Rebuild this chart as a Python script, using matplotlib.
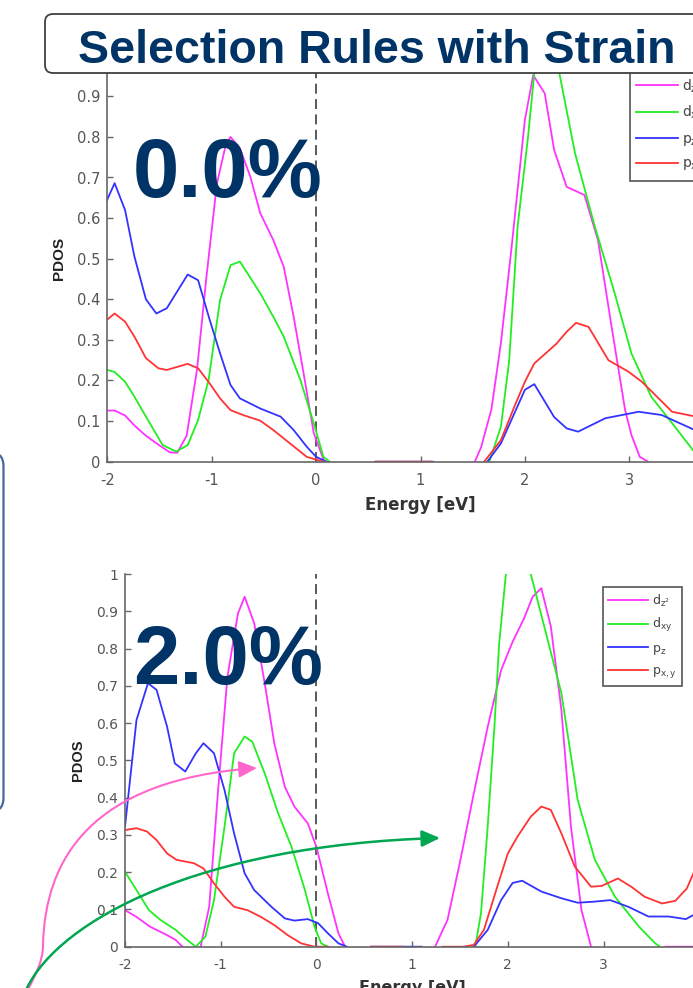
import numpy as np
import matplotlib
matplotlib.use('Agg')
import matplotlib.pyplot as plt
from matplotlib.patches import FancyBboxPatch, FancyArrowPatch
from matplotlib.path import Path
import matplotlib.transforms as mtransforms

nan = np.nan

# ---------------- data: 0.0 % strain ----------------
e0_dz2 = [-2.01, -1.93, -1.83, -1.74, -1.63, -1.50, -1.40, -1.33, -1.24, -1.14, -1.05, -0.95, -0.87, -0.82,
          -0.73, -0.63, -0.535, -0.41, -0.31, -0.215, -0.12, -0.023, 0.07, nan,
          1.52, 1.58, 1.68, 1.77, 1.87, 2.00, 2.08, 2.19, 2.28, 2.40, 2.57, 2.70, 2.83, 2.96, 3.02, 3.10, 3.18]
p0_dz2 = [0.126, 0.126, 0.114, 0.089, 0.064, 0.040, 0.023, 0.022, 0.064, 0.228, 0.456, 0.685, 0.775, 0.800,
          0.772, 0.702, 0.612, 0.546, 0.480, 0.357, 0.218, 0.071, 0.006, nan,
          0.0, 0.035, 0.13, 0.292, 0.522, 0.842, 0.952, 0.907, 0.768, 0.677, 0.657, 0.546, 0.333, 0.127, 0.066, 0.012, 0.0]

e0_dxy = [-2.01, -1.93, -1.83, -1.74, -1.63, -1.47, -1.34, -1.23, -1.13, -1.03, -0.92, -0.82, -0.73, -0.535,
          -0.41, -0.31, -0.15, -0.023, 0.07, 0.13, nan,
          1.66, 1.77, 1.85, 1.93, 2.03, 2.09, 2.21, 2.33, 2.48, 2.67, 2.86, 3.02, 3.21, 3.41, 3.62, 3.72]
p0_dxy = [0.227, 0.221, 0.197, 0.160, 0.111, 0.041, 0.025, 0.041, 0.103, 0.201, 0.398, 0.484, 0.493, 0.415,
          0.357, 0.308, 0.201, 0.095, 0.012, 0.0, nan,
          0.0, 0.086, 0.25, 0.579, 0.80, 0.957, 1.12, 0.957, 0.76, 0.579, 0.415, 0.267, 0.16, 0.095, 0.025, 0.0]

e0_pz = [-2.01, -1.93, -1.83, -1.74, -1.63, -1.53, -1.43, -1.23, -1.13, -1.02, -0.92, -0.82, -0.73, -0.535,
         -0.34, -0.215, -0.09, 0.0, 0.1, nan, 0.57, 1.12, nan,
         1.64, 1.77, 2.00, 2.09, 2.28, 2.40, 2.51, 2.77, 3.09, 3.31, 3.61, 3.80, 4.0]
p0_pz = [0.64, 0.686, 0.62, 0.505, 0.40, 0.365, 0.378, 0.461, 0.447, 0.35, 0.267, 0.189, 0.156, 0.131,
         0.111, 0.078, 0.037, 0.012, 0.0, nan, 0.0, 0.0, nan,
         0.0, 0.045, 0.177, 0.191, 0.11, 0.082, 0.074, 0.107, 0.123, 0.115, 0.08, 0.06, 0.05]

e0_pxy = [-2.01, -1.93, -1.83, -1.74, -1.63, -1.51, -1.43, -1.23, -1.13, -1.02, -0.92, -0.82, -0.70, -0.535,
          -0.41, -0.25, -0.09, 0.07, nan, 0.57, 1.10, nan,
          1.61, 1.77, 1.90, 2.00, 2.09, 2.30, 2.40, 2.49, 2.61, 2.80, 2.99, 3.12, 3.41, 3.62, 3.80, 4.0]
p0_pxy = [0.348, 0.365, 0.345, 0.308, 0.255, 0.230, 0.226, 0.241, 0.230, 0.193, 0.156, 0.127, 0.115, 0.101,
          0.078, 0.045, 0.012, 0.0, nan, 0.0, 0.0, nan,
          0.0, 0.053, 0.136, 0.197, 0.242, 0.29, 0.32, 0.342, 0.332, 0.25, 0.222, 0.197, 0.123, 0.112, 0.11, 0.11]

# ---------------- data: 2.0 % strain ----------------
e2_dz2 = [-2.0, -1.88, -1.74, -1.56, -1.47, -1.40, nan,
          -1.21, -1.12, -1.03, -0.93, -0.82, -0.75, -0.65, -0.54, -0.44, -0.33, -0.23, -0.09, 0.0, 0.12, 0.23, 0.30, nan,
          1.24, 1.37, 1.505, 1.645, 1.79, 1.93, 2.05, 2.17, 2.26, 2.35, 2.45, 2.56, 2.66, 2.77, 2.87, nan,
          3.65, 4.0]
p2_dz2 = [0.098, 0.08, 0.054, 0.031, 0.018, 0.0, nan,
          0.0, 0.107, 0.411, 0.724, 0.894, 0.939, 0.868, 0.707, 0.546, 0.429, 0.376, 0.331, 0.268, 0.143, 0.036, 0.0, nan,
          0.0, 0.072, 0.233, 0.412, 0.59, 0.742, 0.818, 0.881, 0.939, 0.962, 0.859, 0.635, 0.322, 0.098, 0.0, nan,
          0.0, 0.0]

e2_dxy = [-2.0, -1.88, -1.75, -1.63, -1.47, -1.35, -1.26, -1.16, -1.07, -0.96, -0.86, -0.75, -0.67, -0.54,
          -0.40, -0.26, -0.12, -0.02, 0.05, 0.12, nan,
          1.66, 1.72, 1.79, 1.86, 1.91, 1.98, 2.10, 2.24, 2.42, 2.56, 2.73, 2.91, 3.12, 3.37, 3.54, 3.59]
p2_dxy = [0.201, 0.152, 0.098, 0.072, 0.045, 0.018, 0.0, 0.027, 0.125, 0.322, 0.519, 0.564, 0.55, 0.465,
          0.358, 0.268, 0.152, 0.054, 0.009, 0.0, nan,
          0.0, 0.09, 0.322, 0.59, 0.814, 1.0, 1.15, 1.0, 0.82, 0.68, 0.394, 0.233, 0.134, 0.054, 0.009, 0.0]

e2_pz = [-2.0, -1.88, -1.76, -1.67, -1.56, -1.48, -1.37, -1.26, -1.18, -1.07, -0.96, -0.86, -0.75, -0.65,
         -0.47, -0.33, -0.23, -0.09, 0.018, 0.12, 0.23, 0.32, nan, 0.57, 1.10, nan,
         1.645, 1.79, 1.93, 2.05, 2.15, 2.35, 2.56, 2.73, 2.91, 3.07, 3.26, 3.47, 3.68, 3.86, 3.94, 4.0]
p2_pz = [0.322, 0.608, 0.707, 0.689, 0.59, 0.492, 0.47, 0.519, 0.546, 0.519, 0.42, 0.304, 0.197, 0.152,
         0.107, 0.076, 0.070, 0.074, 0.063, 0.036, 0.009, 0.0, nan, 0.0, 0.0, nan,
         0.0, 0.045, 0.125, 0.171, 0.177, 0.148, 0.13, 0.118, 0.121, 0.125, 0.107, 0.081, 0.081, 0.074, 0.085, 0.09]

e2_pxy = [-2.0, -1.88, -1.77, -1.67, -1.56, -1.46, -1.28, -1.18, -1.07, -0.96, -0.86, -0.72, -0.58, -0.44,
          -0.30, -0.16, -0.02, 0.12, nan, 0.57, 0.90, nan,
          1.32, 1.54, 1.645, 1.75, 1.89, 2.0, 2.10, 2.24, 2.35, 2.45, 2.56, 2.70, 2.87, 2.98, 3.15, 3.29, 3.43,
          3.61, 3.75, 3.87, 3.94, 4.0]
p2_pxy = [0.313, 0.318, 0.309, 0.286, 0.25, 0.233, 0.224, 0.21, 0.17, 0.134, 0.107, 0.098, 0.08, 0.058,
          0.031, 0.009, 0.0, 0.0, nan, 0.0, 0.0, nan,
          0.0, 0.0, 0.005, 0.045, 0.161, 0.25, 0.295, 0.349, 0.376, 0.367, 0.304, 0.215, 0.161, 0.163, 0.183, 0.161, 0.134,
          0.116, 0.123, 0.156, 0.197, 0.25]

orbital_labels = [r'd$_{\mathregular{z^2}}$', r'd$_{\mathregular{xy}}$', r'p$_{\mathregular{z}}$', r'p$_{\mathregular{x,y}}$']
orbital_colors = ['#ff33ff', '#22ee22', '#3333ff', '#ff3333']
x_ticks = [-2, -1, 0, 1, 2, 3, 4]
y_ticks = [0, 0.1, 0.2, 0.3, 0.4, 0.5, 0.6, 0.7, 0.8, 0.9, 1]
strain_labels = ['0.0%', '2.0%']
title_text = 'Selection Rules with Strain'
x_label = 'Energy [eV]'
y_label = 'PDOS'

plt.rcParams['axes.unicode_minus'] = False
plt.rcParams['font.family'] = ['DejaVu Sans']

W, H, DPI = 693, 988, 100
fig = plt.figure(figsize=(W / DPI, H / DPI), dpi=DPI)
fig.patch.set_facecolor('white')
pix = mtransforms.Affine2D().scale(1 / DPI, -1 / DPI).translate(0, H / DPI) + fig.dpi_scale_trans


def axes_px(left, right, top, bottom):
    return fig.add_axes([left / W, 1 - bottom / H, (right - left) / W, (bottom - top) / H])


def draw(ax, series, tick_fs, lab_fs, leg_fs, leg_xy, handlelen, lspace, show_top_label=True):
    for (x, y), c, lab in zip(series, orbital_colors, orbital_labels):
        ax.plot(x, y, color=c, lw=1.3, label=lab, solid_joinstyle='round')
    ax.plot([0, 0], [0, 1], color='#4d4d4d', lw=1.3, ls=(0, (5.5, 3)), zorder=1.5)
    ax.set_xlim(-2, 4)
    ax.set_ylim(0, 1)
    ax.set_facecolor('none')
    for s in ['top', 'right']:
        ax.spines[s].set_visible(False)
    for s in ['left', 'bottom']:
        ax.spines[s].set_color('#666666')
        ax.spines[s].set_linewidth(1.2)
    ax.set_xticks(x_ticks)
    ax.set_xticklabels([str(v) for v in x_ticks])
    ax.set_yticks(y_ticks)
    ylabels = ['0' if v == 0 else ('1' if v == 1 else f'{v:.1f}') for v in y_ticks]
    if not show_top_label:
        ylabels[-1] = ''
    ax.set_yticklabels(ylabels)
    ax.tick_params(direction='in', length=4, width=1, color='#666666', labelcolor='#555555',
                   labelsize=tick_fs)
    ax.tick_params(axis='x', pad=8)
    ax.tick_params(axis='y', pad=5)
    ax.set_xlabel(x_label, fontsize=lab_fs, fontweight='bold', color='#333333', labelpad=6)
    ax.set_ylabel(y_label, fontsize=lab_fs - 1, fontweight='bold', color='#222222',
                  family='Liberation Sans', labelpad=8)
    leg = ax.legend(loc='upper left', bbox_to_anchor=leg_xy, bbox_transform=pix, borderaxespad=0,
                    fontsize=leg_fs, handlelength=handlelen, handletextpad=0.3, labelspacing=lspace,
                    borderpad=0.45, frameon=True, fancybox=False, framealpha=1, edgecolor='#555555')
    leg.get_frame().set_linewidth(1.2)
    for t in leg.get_texts():
        t.set_color('#444444')


ax1 = axes_px(107.3, 733.7, 55.7, 461.7)
draw(ax1, [(e0_dz2, p0_dz2), (e0_dxy, p0_dxy), (e0_pz, p0_pz), (e0_pxy, p0_pxy)],
     10.5, 12, 10, (630, 71), 3.0, 0.65, show_top_label=False)

ax2 = axes_px(125, 699.2, 574, 946.7)
draw(ax2, [(e2_dz2, p2_dz2), (e2_dxy, p2_dxy), (e2_pz, p2_pz), (e2_pxy, p2_pxy)],
     10, 11.5, 9, (602.7, 587), 3.2, 0.6)

# title box
fig.add_artist(FancyBboxPatch((45, 14), 680, 59, boxstyle='round,pad=0,rounding_size=8', transform=pix,
                              fc='white', ec='#404040', lw=1.3, zorder=5))
fig.text(376.5, 63, title_text, transform=pix, ha='center', va='baseline', fontsize=33.5,
         fontweight='bold', color='#003366', family='Liberation Sans', zorder=7)

# left partial box
fig.add_artist(FancyBboxPatch((-40, 452), 43.5, 360, boxstyle='round,pad=0,rounding_size=14', transform=pix,
                              fc='none', ec='#45679a', lw=1.6, zorder=5))

# strain labels
for lab, yb in zip(strain_labels, [197, 684]):
    fig.text(133, yb, lab, transform=pix, ha='left', va='baseline', fontsize=60, fontweight='bold',
             color='#003366', family='Liberation Sans', zorder=7)

# arrows
pink = Path([(25, 996), (35, 975), (43, 962), (43, 945), (45, 860), (90, 780), (257, 768)],
            [Path.MOVETO, Path.CURVE4, Path.CURVE4, Path.CURVE4, Path.CURVE4, Path.CURVE4, Path.CURVE4])
green = Path([(22, 998), (27, 988), (60, 920), (200, 845), (440, 838)],
             [Path.MOVETO, Path.LINETO, Path.CURVE4, Path.CURVE4, Path.CURVE4])
fig.add_artist(FancyArrowPatch(path=pink, transform=pix, arrowstyle='-|>,head_length=1.1,head_width=0.5',
                               mutation_scale=10, color='#ff66cc', lw=1.5, zorder=8))
fig.add_artist(FancyArrowPatch(path=green, transform=pix, arrowstyle='-|>,head_length=1.1,head_width=0.5',
                               mutation_scale=10, color='#00a650', lw=1.8, zorder=8))

fig.savefig('out.png', dpi=DPI)
